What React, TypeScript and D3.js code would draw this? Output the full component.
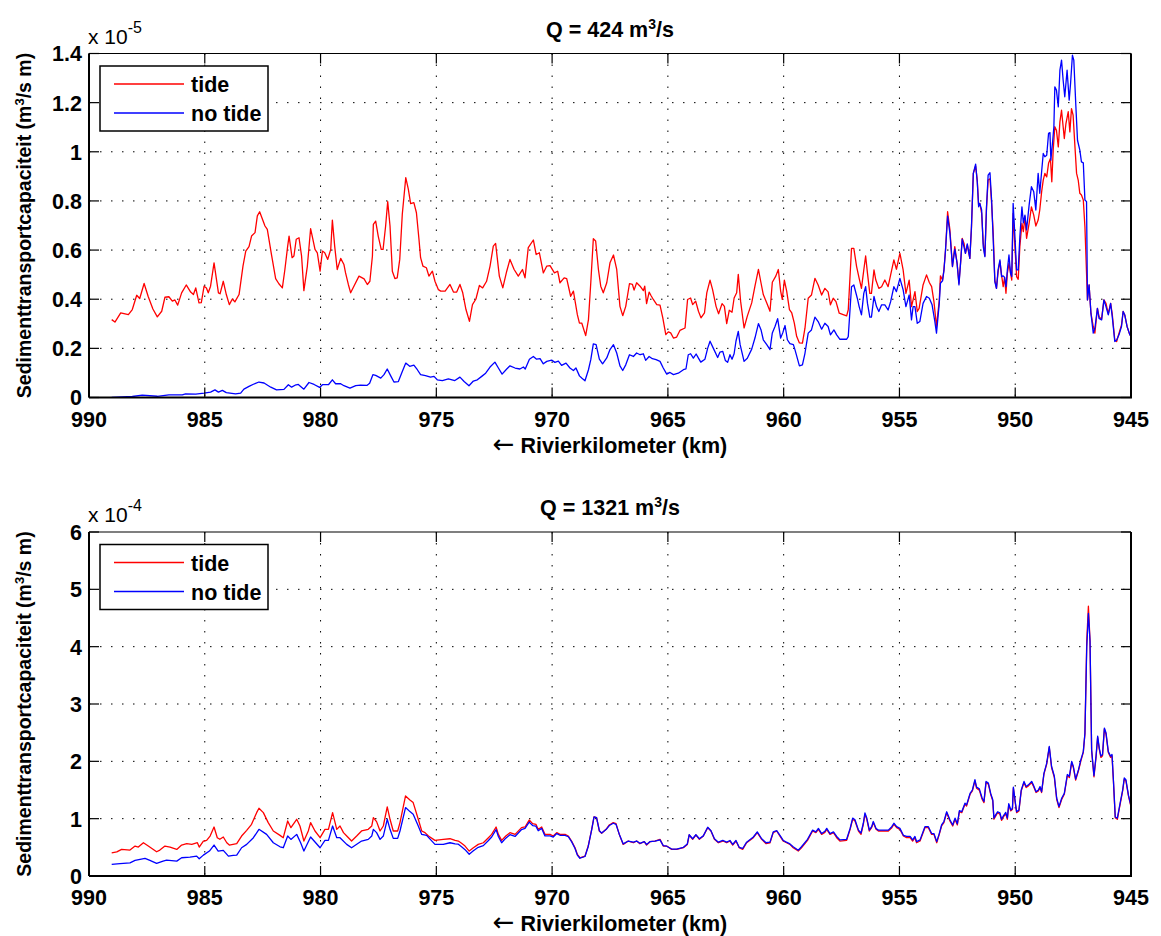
import React from 'react';
import * as d3 from 'd3';

type P = [number, number];

const xTickValues = [990, 985, 980, 975, 970, 965, 960, 955, 950, 945];
const topYTickValues = [0, 0.2, 0.4, 0.6, 0.8, 1, 1.2, 1.4];
const bottomYTickValues = [0, 1, 2, 3, 4, 5, 6];
const seriesNames = ['tide', 'no tide'];
const seriesColors = ['#ff0000', '#0000ff'];
const discharges = ['424', '1321'];
const exponents = ['-5', '-4'];

// Q = 424 m3/s, tide (x 1e-5)
const topTide: P[] = [[989.02,0.317],[988.88,0.307],[988.63,0.344],[988.30,0.337],[988.13,0.358],[987.94,0.416],[987.81,0.403],[987.62,0.464],[987.44,0.41],[987.24,0.36],[987.05,0.328],[986.86,0.351],[986.72,0.408],[986.55,0.41],[986.40,0.392],[986.29,0.397],[986.17,0.376],[986.0,0.426],[985.80,0.458],[985.61,0.429],[985.49,0.419],[985.39,0.446],[985.25,0.385],[985.15,0.386],[985.03,0.453],[984.93,0.446],[984.85,0.426],[984.75,0.453],[984.60,0.548],[984.41,0.426],[984.34,0.422],[984.20,0.473],[984.07,0.419],[983.94,0.378],[983.81,0.401],[983.70,0.389],[983.52,0.419],[983.35,0.535],[983.23,0.596],[983.09,0.614],[982.98,0.657],[982.83,0.671],[982.73,0.739],[982.63,0.756],[982.40,0.698],[982.30,0.684],[982.11,0.576],[981.94,0.484],[981.80,0.463],[981.65,0.446],[981.54,0.521],[981.42,0.616],[981.36,0.657],[981.23,0.569],[981.15,0.576],[981.05,0.644],[980.93,0.650],[980.82,0.576],[980.72,0.435],[980.57,0.535],[980.43,0.687],[980.36,0.657],[980.24,0.603],[980.14,0.589],[980.02,0.514],[979.92,0.596],[979.82,0.589],[979.69,0.562],[979.56,0.603],[979.49,0.722],[979.39,0.616],[979.28,0.521],[979.13,0.566],[978.99,0.541],[978.92,0.507],[978.80,0.460],[978.70,0.426],[978.56,0.453],[978.34,0.494],[978.12,0.483],[977.98,0.460],[977.87,0.473],[977.76,0.576],[977.72,0.705],[977.62,0.718],[977.51,0.657],[977.38,0.603],[977.30,0.603],[977.19,0.698],[977.10,0.797],[977.00,0.698],[976.90,0.514],[976.79,0.484],[976.69,0.487],[976.58,0.562],[976.47,0.746],[976.32,0.895],[976.21,0.848],[976.11,0.789],[975.97,0.793],[975.86,0.752],[975.75,0.644],[975.68,0.569],[975.58,0.535],[975.43,0.528],[975.32,0.494],[975.17,0.514],[975.06,0.473],[974.91,0.439],[974.81,0.433],[974.62,0.433],[974.41,0.460],[974.26,0.429],[974.12,0.429],[973.98,0.460],[973.86,0.426],[973.72,0.358],[973.57,0.310],[973.44,0.378],[973.29,0.401],[973.14,0.456],[973.0,0.446],[972.83,0.473],[972.68,0.535],[972.54,0.616],[972.44,0.627],[972.28,0.494],[972.13,0.446],[971.96,0.514],[971.82,0.562],[971.64,0.521],[971.46,0.494],[971.28,0.521],[971.17,0.487],[971.03,0.610],[970.81,0.641],[970.69,0.582],[970.55,0.589],[970.38,0.507],[970.23,0.535],[970.09,0.537],[969.90,0.507],[969.76,0.514],[969.66,0.467],[969.48,0.487],[969.37,0.484],[969.20,0.412],[969.08,0.433],[968.91,0.337],[968.82,0.303],[968.72,0.303],[968.55,0.252],[968.43,0.317],[968.33,0.467],[968.22,0.646],[968.12,0.637],[968.0,0.521],[967.90,0.453],[967.79,0.426],[967.64,0.467],[967.50,0.548],[967.35,0.580],[967.21,0.521],[967.07,0.371],[966.95,0.333],[966.82,0.371],[966.66,0.463],[966.53,0.460],[966.46,0.437],[966.35,0.467],[966.20,0.453],[966.06,0.435],[966.0,0.453],[965.92,0.382],[965.81,0.429],[965.73,0.415],[965.63,0.399],[965.48,0.378],[965.34,0.376],[965.22,0.324],[965.09,0.256],[964.98,0.267],[964.88,0.263],[964.76,0.242],[964.62,0.246],[964.48,0.273],[964.26,0.283],[964.15,0.399],[964.02,0.405],[963.93,0.378],[963.80,0.392],[963.68,0.351],[963.57,0.324],[963.42,0.344],[963.32,0.426],[963.18,0.478],[963.07,0.439],[962.92,0.371],[962.81,0.341],[962.66,0.382],[962.56,0.371],[962.46,0.301],[962.35,0.355],[962.23,0.347],[962.14,0.405],[962.03,0.426],[961.96,0.501],[961.86,0.392],[961.71,0.283],[961.57,0.331],[961.38,0.385],[961.24,0.453],[961.09,0.521],[960.98,0.467],[960.88,0.419],[960.73,0.385],[960.59,0.351],[960.49,0.469],[960.34,0.494],[960.23,0.521],[960.13,0.433],[960.06,0.399],[959.97,0.478],[959.87,0.433],[959.75,0.358],[959.65,0.344],[959.54,0.303],[959.44,0.249],[959.32,0.222],[959.19,0.221],[959.08,0.282],[958.94,0.404],[958.80,0.417],[958.65,0.485],[958.51,0.458],[958.36,0.417],[958.22,0.444],[958.08,0.43],[957.98,0.377],[957.86,0.404],[957.74,0.39],[957.60,0.343],[957.43,0.337],[957.28,0.332],[957.21,0.357],[957.07,0.607],[956.97,0.607],[956.85,0.533],[956.74,0.485],[956.64,0.444],[956.54,0.519],[956.46,0.576],[956.38,0.505],[956.28,0.424],[956.21,0.424],[956.10,0.519],[956.02,0.478],[955.89,0.444],[955.77,0.451],[955.63,0.478],[955.49,0.451],[955.38,0.499],[955.24,0.560],[955.13,0.522],[954.98,0.587],[954.84,0.519],[954.72,0.424],[954.58,0.478],[954.48,0.370],[954.41,0.397],[954.33,0.431],[954.23,0.350],[954.15,0.363],[953.98,0.458],[953.83,0.499],[953.71,0.468],[953.61,0.451],[953.51,0.390],[953.40,0.289],[953.28,0.397],[953.23,0.495],[953.14,0.478],[953.08,0.519],[953.01,0.600],[952.92,0.756],[952.82,0.682],[952.71,0.533],[952.61,0.614],[952.51,0.546],[952.43,0.465],[952.35,0.560],[952.29,0.648],[952.21,0.627],[952.15,0.587],[952.07,0.621],[951.96,0.566],[951.89,0.688],[951.81,0.912],[951.71,0.942],[951.64,0.885],[951.58,0.783],[951.53,0.790],[951.45,0.749],[951.38,0.627],[951.31,0.576],[951.24,0.770],[951.17,0.885],[951.09,0.890],[951.02,0.790],[950.95,0.668],[950.88,0.478],[950.81,0.444],[950.74,0.512],[950.66,0.553],[950.59,0.499],[950.52,0.451],[950.46,0.489],[950.40,0.424],[950.34,0.505],[950.27,0.546],[950.20,0.505],[950.15,0.478],[950.09,0.749],[950.02,0.627],[949.94,0.492],[949.87,0.481],[949.80,0.614],[949.71,0.709],[949.65,0.675],[949.58,0.736],[949.51,0.648],[949.40,0.709],[949.30,0.776],[949.20,0.742],[949.11,0.698],[949.01,0.722],[948.94,0.763],[948.86,0.837],[948.79,0.885],[948.72,0.912],[948.64,0.898],[948.56,0.953],[948.48,0.973],[948.42,0.878],[948.36,1.007],[948.29,1.102],[948.22,1.088],[948.14,1.020],[948.07,1.122],[948.0,1.169],[947.93,1.102],[947.88,1.054],[947.81,1.115],[947.71,1.163],[947.64,1.081],[947.57,1.176],[947.50,1.149],[947.42,1.020],[947.35,0.912],[947.28,0.885],[947.21,0.831],[947.14,0.824],[947.06,0.804],[946.99,0.695],[946.92,0.505],[946.88,0.397],[946.81,0.458],[946.73,0.343],[946.63,0.289],[946.56,0.262],[946.45,0.363],[946.38,0.329],[946.27,0.318],[946.17,0.397],[946.08,0.383],[945.98,0.340],[945.88,0.383],[945.81,0.340],[945.70,0.234],[945.62,0.228],[945.52,0.261],[945.41,0.295],[945.34,0.350],[945.27,0.336],[945.17,0.289],[945.05,0.255],[945.0,0.25]];

// Q = 424 m3/s, no tide (x 1e-5)
const topNoTide: P[] = [[989.02,0.0],[988.13,0.004],[987.70,0.01],[987.05,0.005],[986.55,0.011],[985.97,0.011],[985.83,0.015],[985.39,0.014],[985.03,0.018],[984.75,0.022],[984.56,0.031],[984.41,0.022],[984.24,0.029],[984.07,0.02],[983.67,0.015],[983.45,0.018],[983.31,0.034],[983.09,0.045],[982.90,0.054],[982.66,0.063],[982.44,0.059],[982.15,0.042],[981.90,0.031],[981.58,0.033],[981.39,0.052],[981.25,0.042],[981.10,0.05],[980.96,0.053],[980.86,0.045],[980.72,0.034],[980.50,0.061],[980.28,0.053],[980.04,0.041],[979.92,0.052],[979.66,0.052],[979.49,0.072],[979.35,0.056],[979.13,0.056],[978.99,0.048],[978.73,0.038],[978.48,0.048],[978.27,0.050],[978.0,0.049],[977.88,0.058],[977.74,0.093],[977.62,0.090],[977.40,0.079],[977.26,0.093],[977.12,0.116],[976.97,0.088],[976.83,0.063],[976.64,0.065],[976.47,0.106],[976.32,0.140],[976.15,0.127],[975.97,0.132],[975.82,0.113],[975.68,0.093],[975.47,0.089],[975.25,0.083],[975.10,0.086],[974.96,0.072],[974.74,0.069],[974.48,0.076],[974.20,0.069],[973.98,0.083],[973.80,0.065],[973.59,0.048],[973.40,0.067],[973.23,0.072],[973.04,0.086],[972.87,0.099],[972.68,0.124],[972.47,0.144],[972.32,0.120],[972.16,0.095],[971.96,0.116],[971.82,0.129],[971.60,0.120],[971.39,0.116],[971.24,0.124],[971.16,0.116],[970.98,0.156],[970.81,0.167],[970.67,0.156],[970.52,0.158],[970.38,0.137],[970.23,0.147],[970.02,0.152],[969.88,0.143],[969.73,0.148],[969.59,0.131],[969.40,0.140],[969.23,0.120],[969.08,0.110],[968.97,0.120],[968.82,0.088],[968.71,0.078],[968.58,0.068],[968.43,0.113],[968.33,0.154],[968.22,0.218],[968.10,0.215],[967.96,0.156],[967.82,0.137],[967.64,0.161],[967.50,0.195],[967.35,0.215],[967.21,0.181],[967.07,0.129],[966.95,0.110],[966.82,0.133],[966.66,0.174],[966.49,0.167],[966.35,0.181],[966.20,0.174],[966.06,0.178],[965.96,0.151],[965.81,0.167],[965.67,0.158],[965.51,0.154],[965.34,0.147],[965.20,0.120],[965.05,0.095],[964.91,0.102],[964.76,0.093],[964.55,0.099],[964.33,0.113],[964.22,0.116],[964.12,0.174],[964.02,0.178],[963.90,0.160],[963.78,0.177],[963.68,0.160],[963.58,0.144],[963.40,0.156],[963.28,0.201],[963.18,0.229],[963.04,0.201],[962.85,0.163],[962.75,0.185],[962.63,0.188],[962.52,0.151],[962.42,0.143],[962.32,0.174],[962.23,0.156],[962.14,0.178],[962.06,0.229],[961.96,0.269],[961.88,0.215],[961.71,0.147],[961.57,0.160],[961.38,0.197],[961.24,0.242],[961.09,0.301],[960.98,0.276],[960.88,0.235],[960.73,0.215],[960.59,0.195],[960.49,0.263],[960.37,0.290],[960.26,0.321],[960.13,0.242],[960.04,0.263],[959.94,0.293],[959.84,0.235],[959.73,0.219],[959.58,0.215],[959.51,0.194],[959.32,0.129],[959.19,0.133],[959.08,0.180],[958.94,0.262],[958.80,0.275],[958.65,0.327],[958.51,0.309],[958.36,0.278],[958.22,0.302],[958.08,0.289],[957.98,0.255],[957.83,0.275],[957.71,0.255],[957.57,0.237],[957.28,0.237],[957.21,0.248],[957.07,0.451],[956.97,0.458],[956.82,0.404],[956.74,0.370],[956.64,0.336],[956.54,0.424],[956.46,0.451],[956.38,0.383],[956.28,0.327],[956.21,0.327],[956.10,0.411],[955.99,0.370],[955.89,0.350],[955.77,0.377],[955.63,0.377],[955.49,0.356],[955.38,0.390],[955.24,0.451],[955.13,0.431],[954.98,0.485],[954.84,0.438],[954.72,0.370],[954.58,0.417],[954.48,0.316],[954.41,0.370],[954.33,0.370],[954.23,0.302],[954.12,0.309],[953.98,0.383],[953.83,0.411],[953.71,0.404],[953.59,0.377],[953.47,0.309],[953.40,0.262],[953.28,0.383],[953.23,0.465],[953.14,0.475],[953.08,0.515],[953.01,0.600],[952.92,0.738],[952.82,0.668],[952.71,0.533],[952.61,0.604],[952.51,0.546],[952.43,0.458],[952.35,0.560],[952.29,0.644],[952.15,0.587],[952.07,0.625],[951.96,0.566],[951.89,0.695],[951.81,0.912],[951.71,0.950],[951.64,0.878],[951.58,0.776],[951.53,0.790],[951.45,0.763],[951.38,0.613],[951.31,0.573],[951.24,0.776],[951.17,0.905],[951.09,0.915],[951.02,0.804],[950.95,0.641],[950.88,0.471],[950.81,0.444],[950.74,0.519],[950.66,0.560],[950.59,0.492],[950.52,0.495],[950.46,0.489],[950.40,0.451],[950.34,0.519],[950.27,0.580],[950.20,0.505],[950.15,0.492],[950.09,0.790],[950.02,0.668],[949.94,0.519],[949.87,0.519],[949.80,0.654],[949.71,0.776],[949.65,0.711],[949.58,0.742],[949.51,0.682],[949.40,0.783],[949.30,0.858],[949.20,0.837],[949.11,0.763],[949.01,0.912],[948.94,0.831],[948.86,0.919],[948.79,0.993],[948.72,0.980],[948.64,0.986],[948.56,1.075],[948.50,1.078],[948.46,0.966],[948.38,1.047],[948.33,1.102],[948.29,1.264],[948.22,1.251],[948.14,1.183],[948.07,1.332],[948.0,1.373],[947.93,1.291],[947.86,1.224],[947.76,1.332],[947.67,1.210],[947.61,1.278],[947.53,1.393],[947.47,1.373],[947.38,1.183],[947.31,1.047],[947.21,1.007],[947.14,0.959],[947.06,0.955],[946.99,0.804],[946.92,0.797],[946.88,0.397],[946.81,0.458],[946.73,0.343],[946.63,0.262],[946.56,0.282],[946.45,0.363],[946.38,0.322],[946.27,0.316],[946.17,0.397],[946.08,0.370],[945.98,0.336],[945.88,0.383],[945.81,0.329],[945.70,0.228],[945.62,0.234],[945.52,0.255],[945.41,0.289],[945.34,0.350],[945.27,0.336],[945.17,0.289],[945.05,0.255],[945.0,0.25]];

// Q = 1321 m3/s, tide (x 1e-4)
const bottomTide: P[] = [[989.02,0.405],[988.80,0.42],[988.59,0.464],[988.23,0.452],[988.01,0.522],[987.87,0.505],[987.65,0.580],[987.44,0.522],[987.08,0.423],[986.94,0.452],[986.72,0.522],[986.50,0.505],[986.21,0.464],[986.0,0.540],[985.78,0.563],[985.56,0.552],[985.32,0.580],[985.24,0.505],[985.06,0.610],[984.92,0.621],[984.77,0.697],[984.60,0.855],[984.46,0.668],[984.35,0.640],[984.20,0.680],[984.05,0.580],[983.94,0.540],[983.62,0.563],[983.41,0.697],[983.19,0.796],[982.98,0.901],[982.76,1.105],[982.66,1.181],[982.47,1.105],[982.26,0.931],[982.04,0.785],[981.75,0.709],[981.61,0.668],[981.42,0.960],[981.28,0.843],[981.03,0.989],[980.89,0.872],[980.72,0.610],[980.53,0.785],[980.43,0.931],[980.24,0.785],[980.02,0.668],[979.81,0.814],[979.66,0.814],[979.48,1.105],[979.30,0.814],[979.16,0.872],[979.01,0.756],[978.87,0.697],[978.66,0.610],[978.44,0.697],[978.23,0.785],[977.94,0.814],[977.79,0.872],[977.72,1.018],[977.58,0.948],[977.43,0.785],[977.29,0.872],[977.12,1.205],[977.0,0.989],[976.86,0.785],[976.67,0.785],[976.57,0.931],[976.33,1.397],[976.14,1.327],[976.0,1.280],[975.78,0.989],[975.63,0.785],[975.49,0.756],[975.34,0.697],[975.06,0.621],[974.70,0.639],[974.41,0.650],[974.19,0.620],[974.05,0.610],[973.91,0.57],[973.76,0.522],[973.58,0.435],[973.40,0.493],[973.19,0.551],[972.97,0.580],[972.75,0.668],[972.61,0.726],[972.42,0.855],[972.32,0.726],[972.18,0.621],[972.0,0.697],[971.82,0.756],[971.60,0.726],[971.32,0.843],[971.17,0.855],[970.99,0.977],[970.84,0.913],[970.70,0.901],[970.60,0.814],[970.45,0.855],[970.31,0.726],[970.09,0.726],[969.95,0.697],[969.80,0.756],[969.66,0.726],[969.44,0.726],[969.30,0.697],[969.16,0.610],[969.01,0.493],[968.91,0.376],[968.80,0.318],[968.58,0.347],[968.44,0.522],[968.29,0.814],[968.19,1.030],[968.08,1.018],[967.96,0.785],[967.86,0.744],[967.67,0.814],[967.53,0.890],[967.36,0.931],[967.24,0.913],[967.10,0.726],[966.93,0.551],[966.71,0.610],[966.49,0.580],[966.35,0.610],[966.21,0.563],[966.02,0.598],[965.92,0.540],[965.77,0.598],[965.56,0.610],[965.34,0.639],[965.20,0.522],[965.05,0.522],[964.84,0.464],[964.62,0.464],[964.33,0.493],[964.16,0.551],[964.08,0.715],[963.93,0.639],[963.79,0.715],[963.64,0.639],[963.47,0.697],[963.28,0.843],[963.14,0.785],[962.99,0.639],[962.82,0.580],[962.63,0.610],[962.46,0.580],[962.32,0.610],[962.20,0.540],[962.06,0.610],[961.92,0.493],[961.77,0.464],[961.60,0.580],[961.31,0.668],[961.14,0.756],[960.95,0.639],[960.76,0.563],[960.59,0.580],[960.45,0.756],[960.30,0.785],[960.16,0.697],[960.02,0.610],[959.88,0.580],[959.73,0.551],[959.59,0.493],[959.37,0.435],[959.23,0.493],[958.97,0.621],[958.75,0.785],[958.61,0.756],[958.50,0.814],[958.36,0.726],[958.22,0.76],[958.14,0.814],[958.0,0.725],[957.85,0.756],[957.71,0.668],[957.57,0.610],[957.28,0.621],[957.13,0.814],[957.02,0.989],[956.92,0.960],[956.77,0.785],[956.66,0.726],[956.56,0.901],[956.49,1.076],[956.41,0.989],[956.30,0.785],[956.20,0.843],[956.13,0.931],[956.01,0.814],[955.91,0.785],[955.48,0.785],[955.33,0.843],[955.24,0.901],[955.12,0.843],[954.98,0.814],[954.83,0.697],[954.69,0.668],[954.54,0.668],[954.43,0.610],[954.33,0.668],[954.26,0.580],[954.11,0.610],[953.90,0.843],[953.75,0.843],[953.61,0.726],[953.51,0.726],[953.39,0.580],[953.28,0.726],[953.18,0.872],[953.08,0.931],[952.96,1.105],[952.82,0.960],[952.70,0.872],[952.60,0.989],[952.50,0.890],[952.41,1.123],[952.31,1.105],[952.17,1.251],[952.10,1.222],[951.95,1.426],[951.85,1.485],[951.74,1.660],[951.67,1.532],[951.55,1.497],[951.43,1.339],[951.35,1.280],[951.26,1.631],[951.16,1.602],[951.06,1.426],[950.97,1.310],[950.92,0.989],[950.84,1.048],[950.76,1.105],[950.66,1.076],[950.59,0.971],[950.51,1.030],[950.41,1.088],[950.34,0.989],[950.28,1.240],[950.19,1.135],[950.12,1.165],[950.08,1.532],[950.0,1.280],[949.94,1.105],[949.84,1.135],[949.74,1.485],[949.62,1.631],[949.53,1.543],[949.43,1.572],[949.29,1.631],[949.22,1.572],[949.10,1.456],[949.0,1.485],[948.93,1.543],[948.86,1.456],[948.76,1.776],[948.64,1.952],[948.53,2.243],[948.43,1.893],[948.31,1.718],[948.21,1.339],[948.11,1.193],[947.99,1.339],[947.88,1.426],[947.75,1.747],[947.66,1.718],[947.56,1.981],[947.49,1.893],[947.39,1.672],[947.27,1.835],[947.17,1.998],[947.06,2.156],[946.99,2.477],[946.91,4.110],[946.84,4.705],[946.77,4.110],[946.70,2.185],[946.60,1.730],[946.51,2.068],[946.44,2.418],[946.37,2.214],[946.30,2.068],[946.23,2.097],[946.15,2.563],[946.08,2.477],[945.98,2.156],[945.88,2.068],[945.82,2.097],[945.76,1.660],[945.68,1.018],[945.59,0.989],[945.47,1.251],[945.36,1.485],[945.29,1.689],[945.22,1.660],[945.11,1.397],[945.01,1.222]];

// Q = 1321 m3/s, no tide (x 1e-4)
const bottomNoTide: P[] = [[989.02,0.201],[988.66,0.215],[988.23,0.230],[988.01,0.271],[987.58,0.306],[987.37,0.271],[987.08,0.219],[986.80,0.260],[986.65,0.277],[986.21,0.260],[986.0,0.318],[985.64,0.330],[985.35,0.347],[985.24,0.300],[985.06,0.364],[984.80,0.435],[984.60,0.540],[984.42,0.435],[984.20,0.446],[983.98,0.347],[983.77,0.358],[983.62,0.364],[983.41,0.493],[983.19,0.551],[982.90,0.668],[982.66,0.814],[982.33,0.726],[982.04,0.580],[981.75,0.510],[981.61,0.493],[981.42,0.697],[981.28,0.638],[981.03,0.726],[980.86,0.580],[980.72,0.435],[980.43,0.680],[980.02,0.493],[979.81,0.621],[979.66,0.621],[979.48,0.872],[979.30,0.668],[979.16,0.668],[978.87,0.551],[978.66,0.493],[978.23,0.610],[977.94,0.639],[977.79,0.697],[977.72,0.814],[977.58,0.756],[977.43,0.639],[977.29,0.697],[977.12,0.989],[977.0,0.814],[976.86,0.656],[976.67,0.656],[976.57,0.785],[976.33,1.193],[976.14,1.123],[976.0,1.076],[975.78,0.872],[975.63,0.726],[975.42,0.709],[975.06,0.551],[974.70,0.551],[974.41,0.580],[974.19,0.56],[974.05,0.555],[973.91,0.51],[973.76,0.46],[973.58,0.38],[973.40,0.44],[973.19,0.50],[972.97,0.53],[972.75,0.62],[972.61,0.68],[972.42,0.81],[972.32,0.69],[972.18,0.58],[972.0,0.66],[971.82,0.72],[971.60,0.69],[971.32,0.81],[971.17,0.83],[970.99,0.94],[970.84,0.88],[970.70,0.87],[970.60,0.79],[970.45,0.83],[970.31,0.70],[970.09,0.70],[969.95,0.68],[969.80,0.74],[969.66,0.71],[969.44,0.71],[969.30,0.685],[969.16,0.60],[969.01,0.48],[968.91,0.365],[968.80,0.31],[968.58,0.34],[968.44,0.515],[968.29,0.81],[968.19,1.03],[968.08,1.02],[967.96,0.79],[967.86,0.75],[967.67,0.81],[967.53,0.88],[967.36,0.92],[967.24,0.90],[967.10,0.73],[966.93,0.56],[966.71,0.61],[966.49,0.59],[966.35,0.61],[966.21,0.57],[966.02,0.60],[965.92,0.55],[965.77,0.60],[965.56,0.61],[965.34,0.63],[965.20,0.53],[965.05,0.52],[964.84,0.47],[964.62,0.47],[964.33,0.50],[964.16,0.56],[964.08,0.72],[963.93,0.65],[963.79,0.72],[963.64,0.65],[963.47,0.70],[963.28,0.85],[963.14,0.79],[962.99,0.65],[962.82,0.59],[962.63,0.62],[962.46,0.59],[962.32,0.62],[962.20,0.55],[962.06,0.62],[961.92,0.50],[961.77,0.48],[961.60,0.59],[961.31,0.68],[961.14,0.77],[960.95,0.65],[960.76,0.58],[960.59,0.59],[960.45,0.77],[960.30,0.79],[960.16,0.71],[960.02,0.62],[959.88,0.59],[959.73,0.56],[959.59,0.51],[959.37,0.45],[959.23,0.51],[958.97,0.64],[958.75,0.80],[958.61,0.77],[958.50,0.83],[958.36,0.74],[958.22,0.78],[958.14,0.83],[958.0,0.74],[957.85,0.77],[957.71,0.69],[957.57,0.63],[957.28,0.64],[957.13,0.83],[957.02,1.01],[956.92,0.98],[956.77,0.80],[956.66,0.75],[956.56,0.92],[956.49,1.10],[956.41,1.01],[956.30,0.80],[956.20,0.86],[956.13,0.95],[956.01,0.83],[955.91,0.80],[955.48,0.80],[955.33,0.86],[955.24,0.92],[955.12,0.86],[954.98,0.83],[954.83,0.71],[954.69,0.69],[954.54,0.69],[954.43,0.63],[954.33,0.69],[954.26,0.60],[954.11,0.63],[953.90,0.86],[953.75,0.86],[953.61,0.74],[953.51,0.74],[953.39,0.60],[953.28,0.74],[953.18,0.89],[953.08,0.95],[952.96,1.12],[952.82,0.98],[952.70,0.89],[952.60,1.01],[952.50,0.91],[952.41,1.14],[952.31,1.12],[952.17,1.27],[952.10,1.24],[951.95,1.44],[951.85,1.50],[951.74,1.68],[951.67,1.55],[951.55,1.52],[951.43,1.36],[951.35,1.30],[951.26,1.65],[951.16,1.62],[951.06,1.44],[950.97,1.33],[950.92,1.01],[950.84,1.07],[950.76,1.12],[950.66,1.10],[950.59,0.99],[950.51,1.05],[950.41,1.11],[950.34,1.01],[950.28,1.26],[950.19,1.15],[950.12,1.18],[950.08,1.55],[950.0,1.30],[949.94,1.12],[949.84,1.15],[949.74,1.50],[949.62,1.65],[949.53,1.56],[949.43,1.59],[949.29,1.65],[949.22,1.59],[949.10,1.47],[949.0,1.50],[948.93,1.56],[948.86,1.47],[948.76,1.79],[948.64,1.97],[948.53,2.26],[948.43,1.91],[948.31,1.74],[948.21,1.36],[948.11,1.21],[947.99,1.36],[947.88,1.44],[947.75,1.77],[947.66,1.74],[947.56,2.00],[947.49,1.91],[947.39,1.69],[947.27,1.85],[947.17,2.02],[947.06,2.17],[946.99,2.49],[946.91,4.00],[946.84,4.58],[946.77,4.10],[946.70,2.20],[946.60,1.75],[946.51,2.09],[946.44,2.44],[946.37,2.23],[946.30,2.09],[946.23,2.12],[946.15,2.58],[946.08,2.50],[945.98,2.17],[945.88,2.09],[945.82,2.12],[945.76,1.68],[945.68,1.03],[945.59,1.01],[945.47,1.27],[945.36,1.50],[945.29,1.71],[945.22,1.68],[945.11,1.41],[945.01,1.24]];

const W = 1161;
const H = 936;
const PL = 89;
const PR = 1131;
const PH = 344;
const FONT = '"Liberation Sans", Arial, Helvetica, sans-serif';

function fmtTick(v: number): string {
  return String(+v.toFixed(1));
}

interface PanelProps {
  top: number;
  q: string;
  exponent: string;
  yMax: number;
  yTicks: number[];
  tide: P[];
  noTide: P[];
  id: string;
}

function Panel({ top, q, exponent, yMax, yTicks, tide, noTide, id }: PanelProps) {
  const x = d3.scaleLinear().domain([990, 945]).range([PL, PR]);
  const y = d3.scaleLinear().domain([0, yMax]).range([top + PH, top]);
  const line = d3.line<P>().x((d) => x(d[0])).y((d) => y(d[1]));
  const bottom = top + PH;
  const cx = (PL + PR) / 2;
  const legX = 100;
  const legY = top + 12.5;
  return (
    <g>
      <defs>
        <clipPath id={id}>
          <rect x={PL} y={top} width={PR - PL} height={PH} />
        </clipPath>
      </defs>
      {xTickValues.filter((t) => t !== 990 && t !== 945).map((t) => (
        <line key={'gx' + t} x1={x(t)} x2={x(t)} y1={top} y2={bottom} stroke="#000" strokeWidth={1} strokeDasharray="1.5 9.5" />
      ))}
      {yTicks.filter((t) => t !== 0 && t !== yMax).map((t) => (
        <line key={'gy' + t} x1={PL} x2={PR} y1={y(t)} y2={y(t)} stroke="#000" strokeWidth={1} strokeDasharray="1.5 9.5" />
      ))}
      <g clipPath={`url(#${id})`}>
        <path d={line(tide) || ''} fill="none" stroke={seriesColors[0]} strokeWidth={1.3} strokeLinejoin="round" />
        <path d={line(noTide) || ''} fill="none" stroke={seriesColors[1]} strokeWidth={1.3} strokeLinejoin="round" />
      </g>
      {xTickValues.map((t) => (
        <g key={'tx' + t}>
          <line x1={x(t)} x2={x(t)} y1={bottom} y2={bottom - 10} stroke="#000" strokeWidth={1.2} />
          <line x1={x(t)} x2={x(t)} y1={top} y2={top + 10} stroke="#000" strokeWidth={1.2} />
          <text x={x(t)} y={bottom + 29} textAnchor="middle" fontSize={21.5} fontWeight="bold" fontFamily={FONT}>{t}</text>
        </g>
      ))}
      {yTicks.map((t) => (
        <g key={'ty' + t}>
          <line x1={PL} x2={PL + 10} y1={y(t)} y2={y(t)} stroke="#000" strokeWidth={1.2} />
          <line x1={PR} x2={PR - 10} y1={y(t)} y2={y(t)} stroke="#000" strokeWidth={1.2} />
          <text x={82} y={y(t)} dy="0.37em" textAnchor="end" fontSize={21.5} fontWeight="bold" fontFamily={FONT}>{fmtTick(t)}</text>
        </g>
      ))}
      <line x1={PL} x2={PR} y1={top} y2={top} stroke="#000" strokeWidth={1.2} />
      <line x1={PL} x2={PR + 1} y1={bottom} y2={bottom} stroke="#000" strokeWidth={2} />
      <line x1={PL} x2={PL} y1={top} y2={bottom} stroke="#000" strokeWidth={2} />
      <line x1={PR} x2={PR} y1={top} y2={bottom} stroke="#000" strokeWidth={2} />
      <text x={88} y={top - 10} fontSize={21} fontFamily={FONT}>
        x 10<tspan dy={-11} fontSize={16}>{exponent}</tspan>
      </text>
      <text x={cx} y={top - 17} textAnchor="middle" fontSize={21.5} fontWeight="bold" fontFamily={FONT}>
        Q = {q} m<tspan dy={-8} fontSize={14}>3</tspan><tspan dy={8}>/s</tspan>
      </text>
      <text x={cx} y={bottom + 55} textAnchor="middle" fontSize={21.5} fontWeight="bold" fontFamily={FONT}>
        <tspan fontFamily='"DejaVu Sans", sans-serif' fontWeight="normal" fontSize={26}>←</tspan> Rivierkilometer (km)
      </text>
      <text transform={`translate(31,${top + PH / 2}) rotate(-90)`} textAnchor="middle" fontSize={19.5} fontWeight="bold" fontFamily={FONT}>
        Sedimenttransportcapaciteit (m<tspan dy={-7} fontSize={13}>3</tspan><tspan dy={7}>/s m)</tspan>
      </text>
      <rect x={legX} y={legY} width={168} height={65} fill="#fff" stroke="#000" strokeWidth={1.5} />
      {seriesNames.map((name, i) => (
        <g key={name}>
          <line x1={114} x2={184} y1={legY + 18 + i * 29} y2={legY + 18 + i * 29} stroke={seriesColors[i]} strokeWidth={1.3} />
          <text x={191} y={legY + 26 + i * 29} fontSize={21.5} fontWeight="bold" fontFamily={FONT}>{name}</text>
        </g>
      ))}
    </g>
  );
}

export default function App() {
  return (
    <svg width={W} height={H} viewBox={`0 0 ${W} ${H}`} style={{ position: 'absolute', left: 0, top: 0, background: '#fff' }}>
      <rect x={0} y={0} width={W} height={H} fill="#fff" />
      <Panel id="clipTop" top={53.5} q={discharges[0]} exponent={exponents[0]} yMax={1.4} yTicks={topYTickValues} tide={topTide} noTide={topNoTide} />
      <Panel id="clipBottom" top={532} q={discharges[1]} exponent={exponents[1]} yMax={6} yTicks={bottomYTickValues} tide={bottomTide} noTide={bottomNoTide} />
    </svg>
  );
}
